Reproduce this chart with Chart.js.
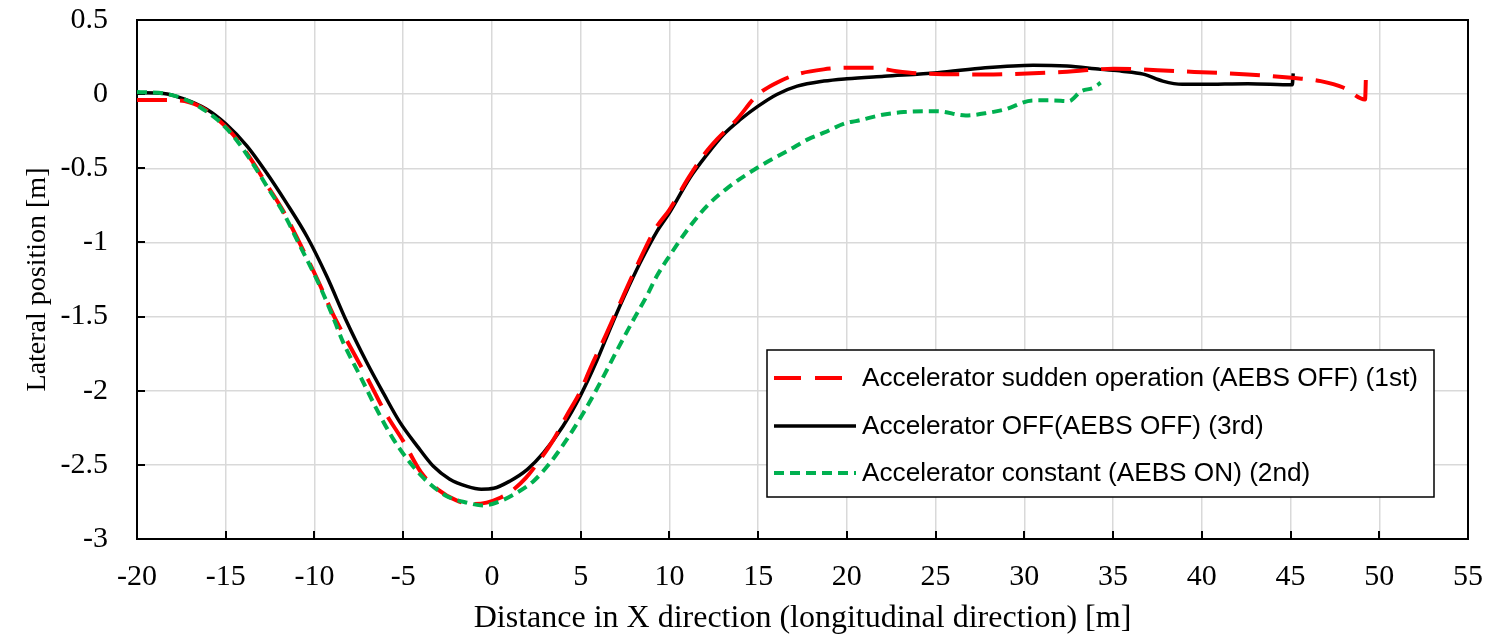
<!DOCTYPE html>
<html>
<head>
<meta charset="utf-8">
<script src="https://cdn.jsdelivr.net/npm/chart.js@4/dist/chart.umd.min.js"></script>
<style>
  html, body { margin: 0; padding: 0; background: #ffffff; }
  #wrap { width: 1493px; height: 640px; }
</style>
</head>
<body>
<div id="wrap"><canvas id="c" width="1493" height="640"></canvas></div>
<script>
// ---- Data ----
const labels = [
  "Accelerator sudden operation (AEBS OFF) (1st)",
  "Accelerator OFF(AEBS OFF) (3rd)",
  "Accelerator constant (AEBS ON) (2nd)"
];

const redX = [-20, -19, -18.5, -17.6, -16.5, -15.5, -14.57, -13.63, -12.69, -11.75, -10.81, -9.87, -8.93, -8.0, -7.0, -6.0, -5.0, -4.0, -3.0, -2.0, -1.2, -0.3, 0.5, 1.03, 1.9, 2.72, 3.47, 4.2, 5.0, 5.54, 6.4, 7.23, 8.2, 9.2, 10.0, 11.1, 12.0, 12.68, 13.8, 14.92, 16.05, 17.18, 18.69, 20.0, 21.5, 22.8, 24.14, 27.8, 31.84, 35.05, 38.56, 42.6, 45.05, 46.7, 48.0, 49.2, 49.25];
const redY = [-0.04, -0.04, -0.04, -0.042, -0.08, -0.165, -0.275, -0.43, -0.61, -0.79, -1.01, -1.24, -1.49, -1.70, -1.92, -2.15, -2.34, -2.55, -2.67, -2.74, -2.765, -2.755, -2.72, -2.684, -2.59, -2.463, -2.33, -2.17, -2.00, -1.85, -1.63, -1.407, -1.15, -0.91, -0.78, -0.56, -0.40, -0.305, -0.171, -0.01, 0.077, 0.133, 0.167, 0.178, 0.178, 0.155, 0.14, 0.133, 0.148, 0.171, 0.155, 0.133, 0.11, 0.088, 0.043, -0.036, 0.121];

const blackX = [-20, -18.5, -17.4, -16.1, -15, -13.8, -12.7, -11.6, -10.4, -9.3, -8.2, -7.05, -6.1, -5.2, -4.2, -3.3, -2.4, -1.4, -0.6, 0.1, 1.0, 2.0, 2.9, 4.0, 5.0, 5.9, 6.7, 7.45, 8.35, 9.3, 10.0, 11.15, 12.1, 13.05, 14.0, 15.0, 16.05, 17.2, 18.7, 20.0, 22.1, 25.1, 27.8, 30.5, 32.4, 34.3, 35.5, 36.7, 37.8, 38.9, 40.0, 42.6, 45.1, 45.15];
const blackY = [0.01, 0.005, -0.03, -0.10, -0.2, -0.35, -0.53, -0.73, -0.965, -1.23, -1.53, -1.81, -2.02, -2.21, -2.375, -2.51, -2.595, -2.645, -2.664, -2.658, -2.61, -2.53, -2.42, -2.24, -2.03, -1.80, -1.57, -1.365, -1.137, -0.925, -0.80, -0.565, -0.41, -0.272, -0.171, -0.081, -0.002, 0.054, 0.088, 0.104, 0.121, 0.144, 0.178, 0.195, 0.189, 0.167, 0.155, 0.135, 0.088, 0.066, 0.066, 0.07, 0.063, 0.14];

const greenX = [-20, -18.5, -17.4, -16.3, -15.5, -14.57, -13.63, -12.69, -11.75, -10.81, -9.87, -9.1, -8.37, -7.43, -6.49, -5.55, -4.61, -3.67, -2.54, -1.41, -0.48, 0.46, 1.4, 2.34, 3.28, 4.22, 5.16, 6.1, 7.04, 7.98, 8.73, 9.29, 10.0, 11.17, 12.11, 13.3, 15.1, 16.8, 17.8, 18.7, 20.0, 20.5, 22.1, 23.2, 25.1, 26.7, 28.0, 28.9, 30.5, 31.6, 32.5, 33.2, 33.9, 34.3];
const greenY = [0.015, 0.005, -0.03, -0.10, -0.17, -0.283, -0.44, -0.62, -0.80, -1.025, -1.25, -1.46, -1.677, -1.90, -2.126, -2.328, -2.486, -2.61, -2.711, -2.755, -2.774, -2.745, -2.688, -2.61, -2.486, -2.328, -2.148, -1.946, -1.73, -1.52, -1.36, -1.227, -1.092, -0.89, -0.755, -0.63, -0.486, -0.373, -0.305, -0.26, -0.193, -0.182, -0.137, -0.121, -0.115, -0.144, -0.125, -0.103, -0.042, -0.042, -0.047, 0.02, 0.043, 0.077];

const xMin = -20, xMax = 55, xStep = 5;
const yMin = -3, yMax = 0.5, yStep = 0.5;

const xTitle = "Distance in X direction (longitudinal direction) [m]";
const yTitle = "Lateral position [m]";

// ---- Build datasets ----
function pts(xs, ys) { return xs.map((x, i) => ({ x: x, y: ys[i] })); }

const styles = [
  { color: '#ff0000', width: 4, dash: [30, 13], legendDash: [27, 14], order: 1 },
  { color: '#000000', width: 3.5, dash: [], legendDash: [], order: 2 },
  { color: '#00b050', width: 4, dash: [10, 6], legendDash: [10, 6], order: 0 }
];
const series = [pts(redX, redY), pts(blackX, blackY), pts(greenX, greenY)];

const datasets = series.map((d, i) => ({
  label: labels[i],
  data: d,
  showLine: true,
  borderColor: styles[i].color,
  backgroundColor: styles[i].color,
  borderWidth: styles[i].width,
  borderDash: styles[i].dash,
  pointRadius: 0,
  pointHoverRadius: 0,
  cubicInterpolationMode: 'monotone',
  fill: false,
  order: styles[i].order
}));

// ---- Plugins: frame, inward ticks, legend ----
const framePlugin = {
  id: 'frame',
  beforeDatasetsDraw(chart) {
    const { ctx, chartArea: a, scales } = chart;
    ctx.save();
    ctx.strokeStyle = '#000';
    ctx.lineWidth = 2;
    ctx.strokeRect(a.left, a.top, a.right - a.left, a.bottom - a.top);
    ctx.beginPath();
    scales.x.ticks.forEach(t => {
      const px = Math.round(scales.x.getPixelForValue(t.value));
      ctx.moveTo(px, a.bottom);
      ctx.lineTo(px, a.bottom - 8);
    });
    scales.y.ticks.forEach(t => {
      const py = Math.round(scales.y.getPixelForValue(t.value));
      ctx.moveTo(a.left, py);
      ctx.lineTo(a.left + 8, py);
    });
    ctx.stroke();
    ctx.restore();
  }
};

const legendPlugin = {
  id: 'boxLegend',
  afterDraw(chart) {
    const { ctx } = chart;
    const bx = 767, by = 350, bw = 667, bh = 147;
    ctx.save();
    ctx.fillStyle = '#ffffff';
    ctx.fillRect(bx, by, bw, bh);
    ctx.strokeStyle = '#000';
    ctx.lineWidth = 1.5;
    ctx.strokeRect(bx, by, bw, bh);
    const rows = [378, 426, 473];
    chart.data.datasets.forEach((ds, i) => {
      const y = rows[i];
      ctx.beginPath();
      ctx.strokeStyle = ds.borderColor;
      ctx.lineWidth = ds.borderWidth;
      ctx.setLineDash(styles[i].legendDash);
      ctx.moveTo(774, y);
      ctx.lineTo(856, y);
      ctx.stroke();
      ctx.setLineDash([]);
      ctx.fillStyle = '#000';
      ctx.font = '26.2px "Liberation Sans", Arial, sans-serif';
      ctx.textBaseline = 'middle';
      ctx.textAlign = 'left';
      ctx.fillText(ds.label, 862, y + 1);
    });
    ctx.restore();
  }
};

const serif = '"Liberation Serif", "Times New Roman", serif';
const fmt = v => String(Number(Number(v).toFixed(2)));

new Chart(document.getElementById('c'), {
  type: 'scatter',
  data: { datasets: datasets },
  options: {
    responsive: false,
    animation: false,
    locale: 'en-US',
    layout: { padding: { top: 20, right: 25, left: 0, bottom: 0 } },
    plugins: {
      legend: { display: false },
      tooltip: { enabled: false }
    },
    scales: {
      x: {
        type: 'linear',
        min: xMin, max: xMax,
        afterFit(scale) { scale.height = 101; scale.paddingLeft = 0; scale.paddingRight = 0; },
        ticks: { stepSize: xStep, color: '#000', padding: 20, maxRotation: 0,
                 callback: fmt, font: { family: serif, size: 30 } },
        grid: { color: '#d9d9d9', lineWidth: 1.5, drawTicks: false },
        border: { display: false },
        title: { display: true, text: xTitle, color: '#000',
                 font: { family: serif, size: 32 }, padding: { top: 0, bottom: 2 } }
      },
      y: {
        type: 'linear',
        min: yMin, max: yMax,
        afterFit(scale) { scale.width = 137; scale.paddingTop = 0; scale.paddingBottom = 0; },
        ticks: { stepSize: yStep, color: '#000', padding: 29,
                 callback: fmt, font: { family: serif, size: 30 } },
        grid: { color: '#d9d9d9', lineWidth: 1.5, drawTicks: false },
        border: { display: false },
        title: { display: true, text: yTitle, color: '#000',
                 font: { family: serif, size: 28 }, padding: { top: 21, bottom: 0 } }
      }
    }
  },
  plugins: [framePlugin, legendPlugin]
});
</script>
</body>
</html>
